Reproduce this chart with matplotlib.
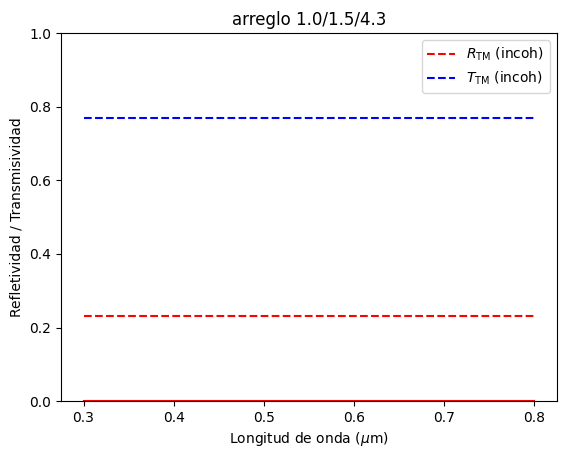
import numpy as np
import matplotlib
matplotlib.use("Agg")
import matplotlib.pyplot as plt

# wavelength samples (um) and the read-off values
wavelength = [0.3, 0.4, 0.5, 0.6, 0.7, 0.8]
R_incoh = [0.23, 0.23, 0.23, 0.23, 0.23, 0.23]
T_incoh = [0.77, 0.77, 0.77, 0.77, 0.77, 0.77]
R_coh = [0.0, 0.0, 0.0, 0.0, 0.0, 0.0]

fig, ax = plt.subplots(figsize=(5.67, 4.59), dpi=100)
fig.subplots_adjust(left=0.1076, right=0.982, top=0.928, bottom=0.126)

ax.plot(wavelength, R_coh, "r-")
ax.plot(wavelength, R_incoh, "r--", label=r"$R_\mathrm{TM}$ (incoh)")
ax.plot(wavelength, T_incoh, "b--", label=r"$T_\mathrm{TM}$ (incoh)")

ax.set_ylim(0, 1)
ax.set_xlabel(r"Longitud de onda ($\mu$m)")
ax.set_ylabel("Refletividad / Transmisividad")
ax.set_title("arreglo 1.0/1.5/4.3")
ax.legend(loc="upper right")

fig.savefig("out.png")
